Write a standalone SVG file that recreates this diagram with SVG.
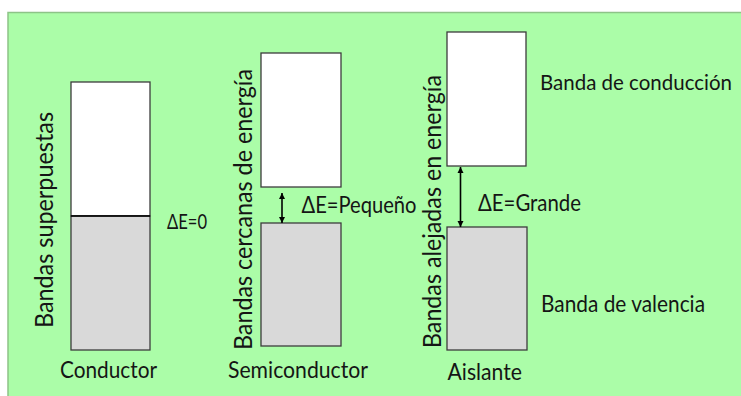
<svg xmlns="http://www.w3.org/2000/svg" width="741" height="396" viewBox="0 0 741 396">
  <style>
    .lbl { font-family: Lato, "Noto Sans", "DejaVu Sans", sans-serif; font-size: 23px; fill: #151515; }
    .vert { font-size: 25.5px; }
    .small { font-size: 21.5px; }
    .edge { font-size: 21px; }
    .band { stroke: #3c3c3c; stroke-width: 1.3; }
    .empty { fill: #ffffff; }
    .full { fill: #d9d9d9; }
    .gap { stroke: #000; stroke-width: 1.6; fill: none; marker-start: url(#tip); marker-end: url(#tip); }
  </style>
  <defs>
    <marker id="tip" viewBox="0 0 10 10" refX="10" refY="5" markerWidth="4" markerHeight="4" orient="auto-start-reverse" markerUnits="strokeWidth">
      <path d="M0,0 L10,5 L0,10 Z" fill="#000"/>
    </marker>
  </defs>

  <!-- page and green panel -->
  <rect x="0" y="0" width="741" height="396" fill="#ffffff"/>
  <rect x="8" y="12.5" width="740" height="390" fill="#abfda8" stroke="#8dc487" stroke-width="1.5"/>

  <!-- conductor: overlapping bands -->
  <g id="conductor">
    <rect class="band empty" x="71" y="82" width="79" height="134"/>
    <rect class="band full" x="71" y="216" width="79" height="134"/>
    <line x1="71" y1="216" x2="150" y2="216" stroke="#000" stroke-width="1.5"/>
    <text class="lbl vert" transform="translate(53,328) rotate(-90)" textLength="216" lengthAdjust="spacingAndGlyphs">Bandas superpuestas</text>
    <text class="lbl small" x="167" y="228.5" textLength="40" lengthAdjust="spacingAndGlyphs">ΔE=0</text>
    <text class="lbl" x="60" y="378" textLength="97" lengthAdjust="spacingAndGlyphs">Conductor</text>
  </g>

  <!-- semiconductor: small gap -->
  <g id="semiconductor">
    <rect class="band empty" x="261" y="53" width="80" height="134"/>
    <rect class="band full" x="261" y="223" width="80" height="123"/>
    <text class="lbl vert" transform="translate(252,350) rotate(-90)" textLength="281" lengthAdjust="spacingAndGlyphs">Bandas cercanas de energía</text>
    <text class="lbl" x="301.5" y="213" textLength="115" lengthAdjust="spacingAndGlyphs">ΔE=Pequeño</text>
    <text class="lbl" x="228" y="378" textLength="140" lengthAdjust="spacingAndGlyphs">Semiconductor</text>
  </g>

  <!-- insulator: large gap -->
  <g id="aislante">
    <rect class="band empty" x="447" y="32" width="79" height="134"/>
    <rect class="band full" x="447" y="227" width="80" height="123"/>
    <text class="lbl vert" transform="translate(441,348) rotate(-90)" textLength="273" lengthAdjust="spacingAndGlyphs">Bandas alejadas en energía</text>
    <text class="lbl" x="478" y="211" textLength="103" lengthAdjust="spacingAndGlyphs">ΔE=Grande</text>
    <text class="lbl" x="447.5" y="380" textLength="74.5" lengthAdjust="spacingAndGlyphs">Aislante</text>
  </g>

  <!-- band names -->
  <g id="legend">
    <text class="lbl edge" x="540" y="90" textLength="192" lengthAdjust="spacingAndGlyphs">Banda de conducción</text>
    <text class="lbl" x="541" y="311.5" textLength="164" lengthAdjust="spacingAndGlyphs">Banda de valencia</text>
  </g>

  <!-- energy gap arrows -->
  <g id="connectors">
    <line class="gap" x1="282" y1="193" x2="282" y2="223"/>
    <line class="gap" x1="460.5" y1="167" x2="460.5" y2="227"/>
  </g>
</svg>
